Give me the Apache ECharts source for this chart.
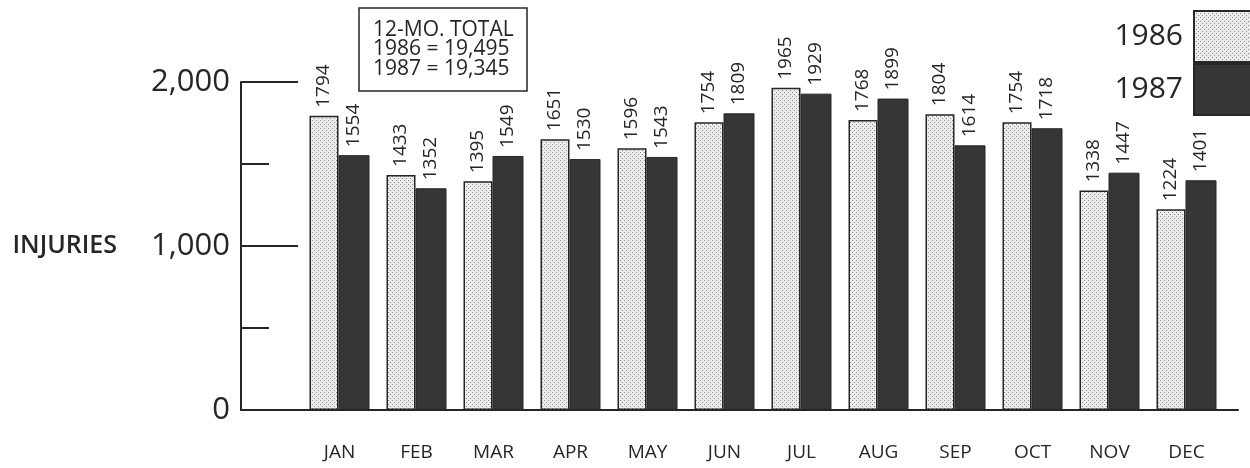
<!DOCTYPE html>
<html>
<head>
<meta charset="utf-8">
<script src="https://cdn.jsdelivr.net/npm/echarts@6/dist/echarts.min.js"></script>
<style>
  html, body { margin: 0; padding: 0; background: #fff; }
  #chart { width: 1250px; height: 468px; }
</style>
</head>
<body>
<div id="chart"></div>
<script>
// data
const months = ['JAN', 'FEB', 'MAR', 'APR', 'MAY', 'JUN', 'JUL', 'AUG', 'SEP', 'OCT', 'NOV', 'DEC'];
const injuries1986 = [1794, 1433, 1395, 1651, 1596, 1754, 1965, 1768, 1804, 1754, 1338, 1224];
const injuries1987 = [1554, 1352, 1549, 1530, 1543, 1809, 1929, 1899, 1614, 1718, 1447, 1401];
const totalsText = ['12-MO. TOTAL', '1986 = 19,495', '1987 = 19,345'];

// dotted fill for the 1986 bars
const dots = document.createElement('canvas');
dots.width = 4;
dots.height = 4;
const ctx = dots.getContext('2d');
ctx.fillStyle = '#ececec';
ctx.fillRect(0, 0, 4, 4);
ctx.fillStyle = '#8a8a8a';
ctx.fillRect(0, 0, 1, 1);
ctx.fillRect(2, 2, 1, 1);

const ink = '#262626';
const font = 'Open Sans';

const valueLabel = {
  show: true,
  position: 'top',
  rotate: 90,
  align: 'left',
  verticalAlign: 'middle',
  distance: 8,
  fontFamily: font,
  fontSize: 19,
  color: ink
};

const chart = echarts.init(document.getElementById('chart'));
const option = {
  backgroundColor: '#fff',
  animation: false,
  textStyle: { fontFamily: font, color: ink },
  title: {
    text: totalsText.join('\n'),
    left: 359,
    top: 8,
    padding: [12, 14, 12, 14],
    borderWidth: 1.5,
    borderColor: ink,
    textStyle: { fontFamily: font, fontSize: 21, fontWeight: 'normal', lineHeight: 19.5, color: ink }
  },
  legend: {
    orient: 'vertical',
    right: -14,
    top: 5,
    align: 'right',
    itemWidth: 64,
    itemHeight: 51,
    itemGap: 0,
    icon: 'rect',
    textStyle: { fontFamily: font, fontSize: 30, color: ink, padding: [0, 6, 0, 0] },
    data: ['1986', '1987']
  },
  grid: [
    { left: 301, right: 25, top: 82, bottom: 58 },
    { left: 241, right: 12, top: 82, bottom: 58 }
  ],
  xAxis: [
    {
      type: 'category',
      gridIndex: 0,
      data: months,
      axisLine: { show: false },
      axisTick: { show: false },
      axisLabel: { fontFamily: font, fontSize: 19, color: ink, margin: 33 }
    },
    {
      type: 'value',
      gridIndex: 1,
      axisLine: { show: true, lineStyle: { color: ink, width: 2 } },
      axisTick: { show: false },
      axisLabel: { show: false },
      splitLine: { show: false }
    }
  ],
  yAxis: [
    {
      type: 'value',
      gridIndex: 0,
      min: 0,
      max: 2000,
      show: false
    },
    {
      type: 'value',
      gridIndex: 1,
      min: 0,
      max: 2000,
      interval: 1000,
      name: 'INJURIES',
      nameLocation: 'middle',
      nameRotate: 0,
      nameGap: 124,
      nameTextStyle: { fontFamily: font, fontSize: 25, fontWeight: 600, color: ink },
      axisLine: { show: true, lineStyle: { color: ink, width: 2 } },
      axisTick: { show: true, inside: true, length: 57, lineStyle: { color: ink, width: 2 } },
      minorTick: { show: true, splitNumber: 2, length: 28, lineStyle: { color: ink, width: 2 } },
      splitLine: { show: false },
      axisLabel: {
        fontFamily: font,
        fontSize: 31,
        color: ink,
        margin: 11,
        formatter: v => v.toLocaleString('en-US')
      }
    }
  ],
  series: [
    {
      name: '1986',
      type: 'bar',
      xAxisIndex: 0,
      yAxisIndex: 0,
      data: injuries1986,
      barWidth: 29,
      barGap: '0%',
      itemStyle: { color: { image: dots, repetition: 'repeat' }, borderColor: ink, borderWidth: 1.5 },
      label: valueLabel
    },
    {
      name: '1987',
      type: 'bar',
      xAxisIndex: 0,
      yAxisIndex: 0,
      data: injuries1987,
      barWidth: 31,
      barGap: '0%',
      itemStyle: { color: '#363636', borderColor: ink, borderWidth: 1 },
      label: valueLabel
    }
  ]
};
chart.setOption(option);
</script>
</body>
</html>
